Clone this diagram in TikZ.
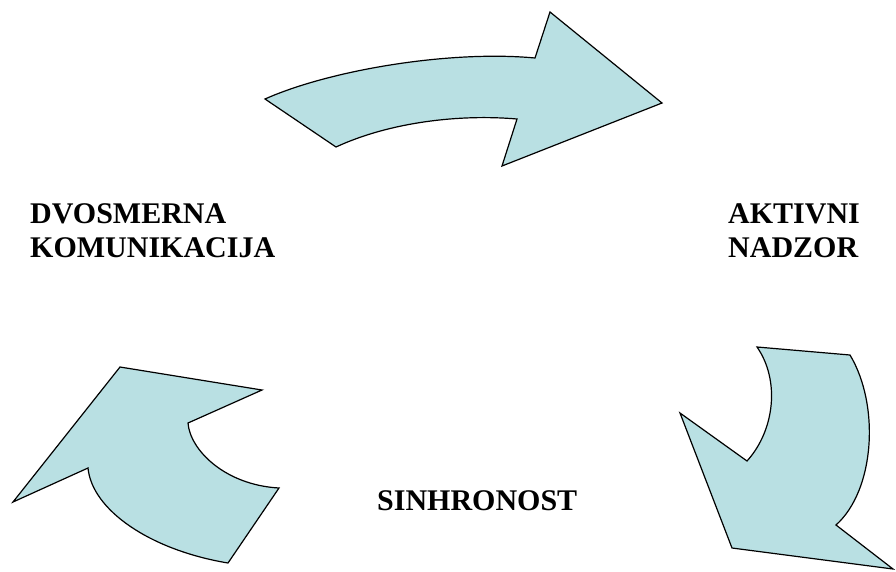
\documentclass[tikz,border=0pt]{standalone}
\usepackage{fontspec}
\newfontfamily\lblfont{Liberation Serif}[BoldFont={Liberation Serif Bold}]
\definecolor{arrowfill}{RGB}{185,224,227}
\begin{document}
\begin{tikzpicture}[x=1pt,y=-1pt,
  bigarrow/.style={fill=arrowfill,draw=black,line width=1.2pt,line join=miter},
  lbl/.style={anchor=base west,inner sep=0pt,font=\lblfont\fontsize{30}{34}\selectfont\bfseries}]
\useasboundingbox (0,0) rectangle (896,571);
% top arrow
\draw[bigarrow] (265,99) -- (336,147)
  .. controls (390,122) and (460,114) .. (517,119)
  -- (502,166) -- (662,103) -- (550,12) -- (535,58)
  .. controls (450,50) and (330,70) .. (265,99) -- cycle;
% bottom-left arrow
\draw[bigarrow] (120,367) -- (262,390) -- (188,423)
  .. controls (190,450) and (225,485) .. (279,488)
  -- (228,563)
  .. controls (150,550) and (92,510) .. (88,468)
  -- (13,502) -- cycle;
% bottom-right arrow
\draw[bigarrow] (757,347) -- (850,355)
  .. controls (880,405) and (875,490) .. (836,525)
  -- (893,569) -- (732,548) -- (680,413) -- (747,461)
  .. controls (775,430) and (780,380) .. (757,347) -- cycle;
% labels
\node[lbl] (dv) at (30,223) {DVOSMERNA};
\node[lbl] (ko) at (30,257) {KOMUNIKACIJA};
\node[lbl] (ak) at (728,223) {AKTIVNI};
\node[lbl] (na) at (728,257) {NADZOR};
\node[lbl] (si) at (377,510) {SINHRONOST};
\end{tikzpicture}
\end{document}
